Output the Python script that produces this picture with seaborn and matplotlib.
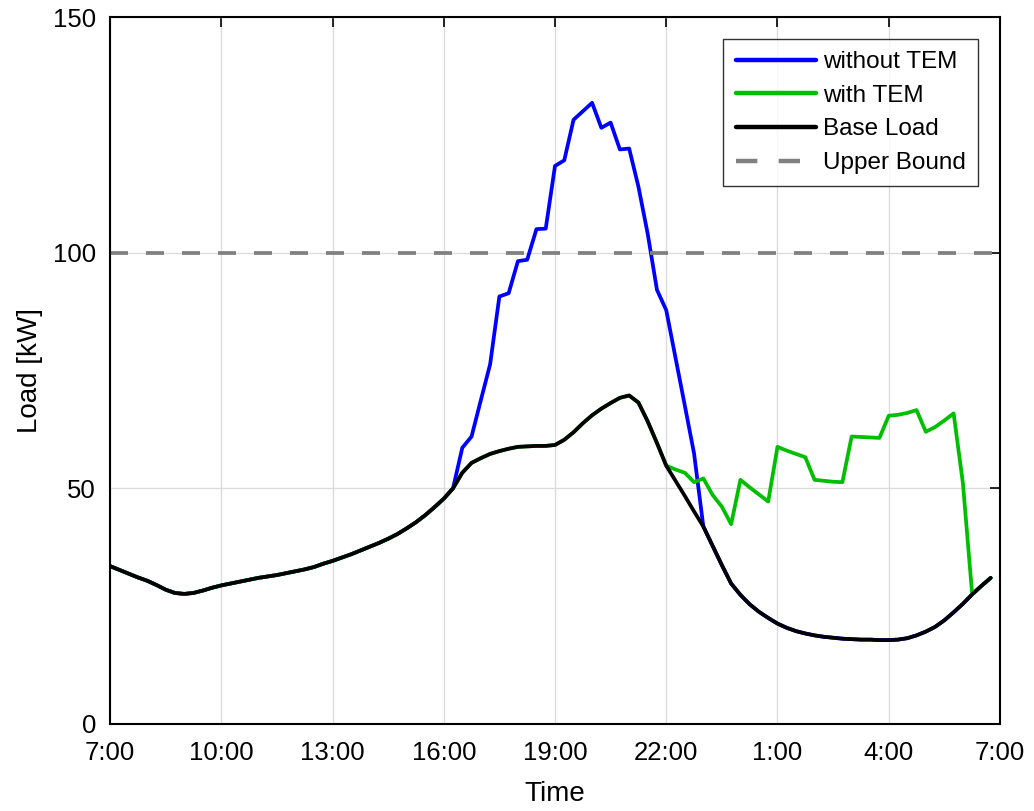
import numpy as np
import pandas as pd
import matplotlib
matplotlib.use("Agg")
import matplotlib.pyplot as plt
import seaborn as sns

# ---- data: 15-minute steps from 7:00 to 6:45 next day ----
base_load = [33.5, 32.7, 31.9, 31.1, 30.4, 29.5, 28.5, 27.8, 27.6, 27.8,
             28.3, 28.9, 29.4, 29.8, 30.2, 30.6, 31.0, 31.3, 31.6, 32.0,
             32.4, 32.8, 33.3, 34.0, 34.6, 35.3, 36.0, 36.8, 37.6, 38.4,
             39.3, 40.3, 41.5, 42.8, 44.3, 46.0, 47.8, 50.0, 53.3, 55.4,
             56.4, 57.3, 57.9, 58.4, 58.8, 58.9, 59.0, 59.0, 59.2, 60.3,
             61.9, 63.8, 65.5, 66.9, 68.1, 69.2, 69.7, 68.2, 64.2, 59.6,
             54.8, 51.6, 48.4, 45.1, 41.9, 37.8, 33.7, 29.8, 27.4, 25.4,
             23.8, 22.5, 21.3, 20.4, 19.7, 19.2, 18.8, 18.5, 18.3, 18.1,
             18.0, 17.9, 17.9, 17.8, 17.8, 17.9, 18.2, 18.8, 19.6, 20.6,
             22.0, 23.7, 25.5, 27.5, 29.3, 31.0]

# uncontrolled charging (idx 38..63), otherwise equal to base load
without_tem_peak = [58.6, 61.0, 68.7, 76.3, 90.7, 91.4, 98.2, 98.5, 105.0, 105.1,
                    118.4, 119.6, 128.2, 130.0, 131.8, 126.5, 127.6, 121.9, 122.1, 114.0,
                    104.0, 92.1, 87.8, 77.7, 67.6, 57.4]
# controlled charging (idx 61..92), otherwise equal to base load
with_tem_shift = [54.0, 53.3, 51.3, 52.1, 48.6, 46.1, 42.4, 51.8, 50.2, 48.7,
                  47.2, 58.8, 58.0, 57.3, 56.6, 51.8, 51.6, 51.4, 51.3, 61.0,
                  60.9, 60.8, 60.7, 65.4, 65.6, 66.0, 66.6, 62.0, 63.0, 64.4,
                  65.9, 51.1]

upper_bound = 100
tick_hours = [0, 3, 6, 9, 12, 15, 18, 21, 24]
tick_labels = ["7:00", "10:00", "13:00", "16:00", "19:00", "22:00", "1:00", "4:00", "7:00"]

hours = np.arange(len(base_load)) * 0.25
without_tem = list(base_load)
without_tem[38:38 + len(without_tem_peak)] = without_tem_peak
with_tem = list(base_load)
with_tem[61:61 + len(with_tem_shift)] = with_tem_shift

df = pd.DataFrame({"t": hours, "without": without_tem, "with": with_tem, "base": base_load})

# ---- plot ----
sns.set_style("white")
plt.rcParams["font.family"] = ["Liberation Sans", "DejaVu Sans"]
plt.rcParams.update({"text.color": "black", "axes.labelcolor": "black",
                     "xtick.color": "black", "ytick.color": "black"})

fig = plt.figure(figsize=(10.34, 8.11), dpi=100)
ax = fig.add_axes([0.1064, 0.1073, 0.8607, 0.8717])

lw = 2.7
sns.lineplot(data=df, x="t", y="without", color="#0000FF", linewidth=lw, label="without TEM", ax=ax)
sns.lineplot(data=df, x="t", y="with", color="#00BE00", linewidth=lw, label="with TEM", ax=ax)
sns.lineplot(data=df, x="t", y="base", color="black", linewidth=lw, label="Base Load", ax=ax)
ax.axhline(upper_bound, color="#808080", linewidth=lw, dashes=(4.8, 4.8), label="Upper Bound")

ax.set_xlim(0, 24)
ax.set_ylim(0, 150)
ax.set_xticks(tick_hours)
ax.set_xticklabels(tick_labels)
ax.set_yticks([0, 50, 100, 150])
ax.grid(True, color="#DCDCDC", linewidth=1.0)
ax.set_axisbelow(True)

for s in ax.spines.values():
    s.set_visible(True)
    s.set_color("black")
    s.set_linewidth(1.5)
ax.tick_params(direction="in", length=7, width=1.2, labelsize=18.5,
               top=True, right=True)
ax.tick_params(axis="x", pad=12)
ax.tick_params(axis="y", pad=10)

ax.set_xlabel("Time", fontsize=20, labelpad=12)
ax.set_ylabel("Load [kW]", fontsize=20, labelpad=7)

leg = ax.legend(loc="upper right", fontsize=17.5, handlelength=3.3, frameon=True,
                fancybox=False, edgecolor="black", borderaxespad=0.9,
                labelspacing=0.48, handletextpad=0.3, borderpad=0.5)
leg.get_frame().set_linewidth(1.0)
for h in leg.get_lines():
    h.set_linewidth(3.2)

fig.savefig("out.png", dpi=100)
plt.close(fig)
